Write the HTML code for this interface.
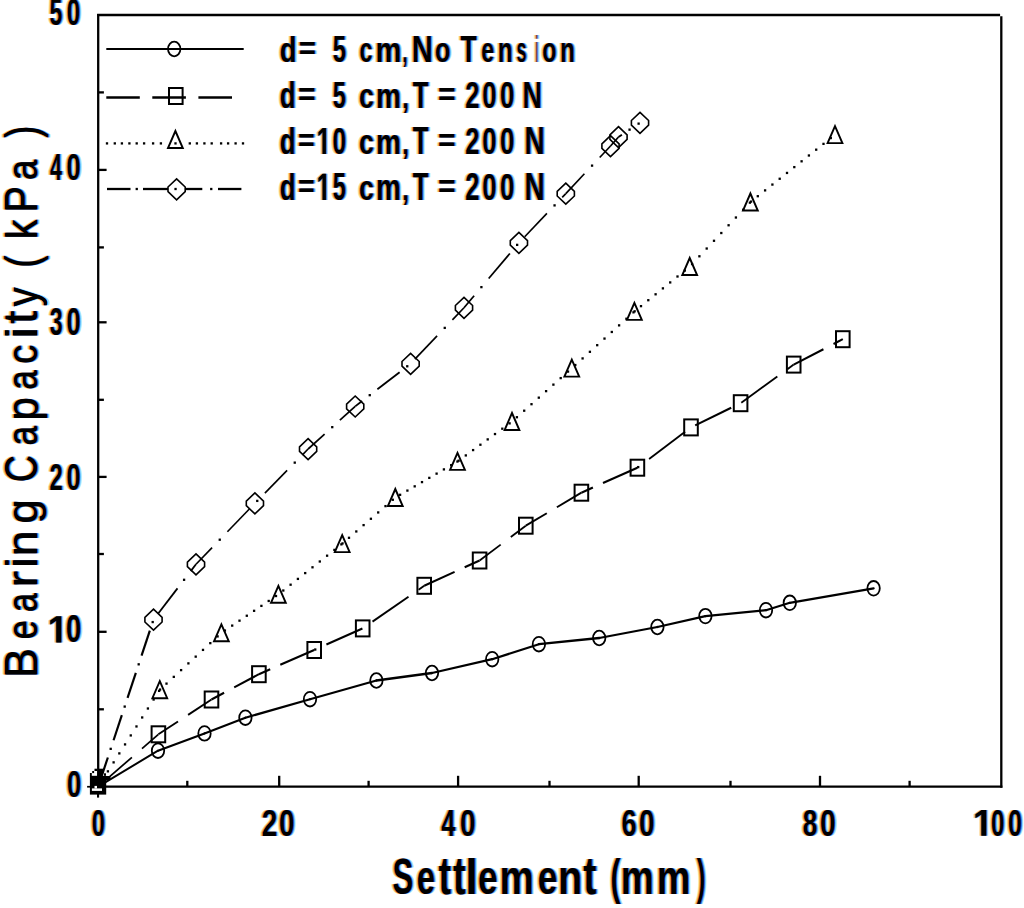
<!DOCTYPE html>
<html><head><meta charset="utf-8"><title>Bearing Capacity vs Settlement</title>
<style>
html,body{margin:0;padding:0;background:#fff;}
body{width:1024px;height:908px;overflow:hidden;position:relative;font-family:"Liberation Sans",sans-serif;}
svg{position:absolute;left:0;top:0;display:block;}
</style></head><body>
<svg width="1024" height="908" viewBox="0 0 1024 908">
<rect width="1024" height="908" fill="#fff"/>
<defs><g font-family="Liberation Sans"><g id="t1"><text transform="translate(49.50,25.43) scale(0.22912,0.37549)" font-size="100" font-weight="bold" vector-effect="non-scaling-stroke">5</text><text transform="translate(66.85,25.43) scale(0.23970,0.37570)" font-size="100" font-weight="bold" vector-effect="non-scaling-stroke">0</text><text transform="translate(49.88,180.30) scale(0.21283,0.37646)" font-size="100" font-weight="bold" vector-effect="non-scaling-stroke">4</text><text transform="translate(66.40,180.33) scale(0.25232,0.37711)" font-size="100" font-weight="bold" vector-effect="non-scaling-stroke">0</text><text transform="translate(49.67,335.37) scale(0.22934,0.37915)" font-size="100" font-weight="bold" vector-effect="non-scaling-stroke">3</text><text transform="translate(66.40,335.43) scale(0.25232,0.37994)" font-size="100" font-weight="bold" vector-effect="non-scaling-stroke">0</text><text transform="translate(49.38,490.10) scale(0.23679,0.37523)" font-size="100" font-weight="bold" vector-effect="non-scaling-stroke">2</text><text transform="translate(66.40,490.13) scale(0.25232,0.37570)" font-size="100" font-weight="bold" vector-effect="non-scaling-stroke">0</text><path d="M478 0L478 1170L140 959L140 1180L493 1409L759 1409L759 0Z" transform="translate(47.71,642.40) scale(0.017771,-0.018524)"/><text transform="translate(65.92,642.43) scale(0.27335,0.37994)" font-size="100" font-weight="bold" vector-effect="non-scaling-stroke">0</text><text transform="translate(66.89,797.13) scale(0.25442,0.37711)" font-size="100" font-weight="bold" vector-effect="non-scaling-stroke">0</text><text transform="translate(91.77,835.83) scale(0.23550,0.37570)" font-size="100" font-weight="bold" vector-effect="non-scaling-stroke">0</text><text transform="translate(261.64,835.80) scale(0.27833,0.37523)" font-size="100" font-weight="bold" vector-effect="non-scaling-stroke">2</text><text transform="translate(279.00,835.83) scale(0.27755,0.37570)" font-size="100" font-weight="bold" vector-effect="non-scaling-stroke">0</text><text transform="translate(441.22,835.80) scale(0.25017,0.37501)" font-size="100" font-weight="bold" vector-effect="non-scaling-stroke">4</text><text transform="translate(460.00,835.83) scale(0.27755,0.37570)" font-size="100" font-weight="bold" vector-effect="non-scaling-stroke">0</text><text transform="translate(621.62,835.83) scale(0.26893,0.37570)" font-size="100" font-weight="bold" vector-effect="non-scaling-stroke">6</text><text transform="translate(639.00,835.83) scale(0.27755,0.37570)" font-size="100" font-weight="bold" vector-effect="non-scaling-stroke">0</text><text transform="translate(802.78,835.83) scale(0.25929,0.37570)" font-size="100" font-weight="bold" vector-effect="non-scaling-stroke">8</text><text transform="translate(819.89,835.83) scale(0.28176,0.37570)" font-size="100" font-weight="bold" vector-effect="non-scaling-stroke">0</text><path d="M478 0L478 1170L140 959L140 1180L493 1409L759 1409L759 0Z" transform="translate(972.96,835.80) scale(0.017447,-0.018311)"/><text transform="translate(991.05,835.83) scale(0.23970,0.37570)" font-size="100" font-weight="bold" vector-effect="non-scaling-stroke">0</text><text transform="translate(1008.11,835.83) scale(0.25022,0.37570)" font-size="100" font-weight="bold" vector-effect="non-scaling-stroke">0</text></g><g id="t2"><text transform="translate(279.68,61.95) scale(0.27386,0.35949)" font-size="100" font-weight="bold" vector-effect="non-scaling-stroke">d</text><text transform="translate(298.68,59.30) scale(0.29314,0.30958)" font-size="100" font-weight="bold" vector-effect="non-scaling-stroke">=</text><text transform="translate(332.87,61.93) scale(0.23716,0.37406)" font-size="100" font-weight="bold" vector-effect="non-scaling-stroke">5</text><text transform="translate(359.40,61.96) scale(0.23166,0.35229)" font-size="100" font-weight="bold" vector-effect="non-scaling-stroke">c</text><text transform="translate(375.49,62.00) scale(0.29032,0.35278)" font-size="100" font-weight="bold" vector-effect="non-scaling-stroke">m</text><text transform="translate(402.61,62.11) scale(0.17474,0.32268)" font-size="100" font-weight="bold" vector-effect="non-scaling-stroke">,</text><text transform="translate(411.65,62.00) scale(0.29087,0.37501)" font-size="100" font-weight="bold" vector-effect="non-scaling-stroke">N</text><text transform="translate(435.02,61.96) scale(0.24966,0.35229)" font-size="100" font-weight="bold" vector-effect="non-scaling-stroke">o</text><text transform="translate(460.40,62.00) scale(0.26322,0.37501)" font-size="100" font-weight="bold" vector-effect="non-scaling-stroke">T</text><text transform="translate(481.30,61.96) scale(0.22986,0.35229)" font-size="100" font-weight="bold" vector-effect="non-scaling-stroke">e</text><text transform="translate(497.80,62.00) scale(0.24228,0.35278)" font-size="100" font-weight="bold" vector-effect="non-scaling-stroke">n</text><text transform="translate(516.47,61.96) scale(0.17917,0.35197)" font-size="100" font-weight="bold" vector-effect="non-scaling-stroke">s</text><text transform="translate(535.74,62.00) scale(0.06559,0.36019)" font-size="100" font-weight="bold" vector-effect="non-scaling-stroke">i</text><text transform="translate(542.30,61.96) scale(0.23089,0.35229)" font-size="100" font-weight="bold" vector-effect="non-scaling-stroke">o</text><text transform="translate(560.00,62.00) scale(0.24228,0.35278)" font-size="100" font-weight="bold" vector-effect="non-scaling-stroke">n</text><text transform="translate(279.74,107.85) scale(0.25798,0.36221)" font-size="100" font-weight="bold" vector-effect="non-scaling-stroke">d</text><text transform="translate(298.06,105.00) scale(0.29912,0.30958)" font-size="100" font-weight="bold" vector-effect="non-scaling-stroke">=</text><text transform="translate(332.78,107.83) scale(0.23314,0.37692)" font-size="100" font-weight="bold" vector-effect="non-scaling-stroke">5</text><text transform="translate(359.06,107.85) scale(0.26651,0.35594)" font-size="100" font-weight="bold" vector-effect="non-scaling-stroke">c</text><text transform="translate(376.06,107.90) scale(0.27850,0.35650)" font-size="100" font-weight="bold" vector-effect="non-scaling-stroke">m</text><text transform="translate(402.29,108.01) scale(0.23765,0.32268)" font-size="100" font-weight="bold" vector-effect="non-scaling-stroke">,</text><text transform="translate(412.81,107.90) scale(0.25473,0.37791)" font-size="100" font-weight="bold" vector-effect="non-scaling-stroke">T</text><text transform="translate(438.06,105.00) scale(0.29912,0.30958)" font-size="100" font-weight="bold" vector-effect="non-scaling-stroke">=</text><text transform="translate(465.32,107.90) scale(0.25340,0.37666)" font-size="100" font-weight="bold" vector-effect="non-scaling-stroke">2</text><text transform="translate(482.19,107.83) scale(0.25442,0.37570)" font-size="100" font-weight="bold" vector-effect="non-scaling-stroke">0</text><text transform="translate(499.89,107.83) scale(0.25653,0.37570)" font-size="100" font-weight="bold" vector-effect="non-scaling-stroke">0</text><text transform="translate(522.40,107.90) scale(0.26876,0.37791)" font-size="100" font-weight="bold" vector-effect="non-scaling-stroke">N</text><text transform="translate(279.74,153.94) scale(0.25798,0.36357)" font-size="100" font-weight="bold" vector-effect="non-scaling-stroke">d</text><text transform="translate(298.12,151.00) scale(0.28516,0.30958)" font-size="100" font-weight="bold" vector-effect="non-scaling-stroke">=</text><path d="M478 0L478 1170L140 959L140 1180L493 1409L759 1409L759 0Z" transform="translate(316.70,154.00) scale(0.012116,-0.018524)"/><text transform="translate(332.54,153.93) scale(0.24391,0.37711)" font-size="100" font-weight="bold" vector-effect="non-scaling-stroke">0</text><text transform="translate(359.06,153.95) scale(0.26651,0.35776)" font-size="100" font-weight="bold" vector-effect="non-scaling-stroke">c</text><text transform="translate(376.06,154.00) scale(0.27850,0.35835)" font-size="100" font-weight="bold" vector-effect="non-scaling-stroke">m</text><text transform="translate(402.29,154.11) scale(0.23765,0.32268)" font-size="100" font-weight="bold" vector-effect="non-scaling-stroke">,</text><text transform="translate(412.81,154.00) scale(0.25473,0.37937)" font-size="100" font-weight="bold" vector-effect="non-scaling-stroke">T</text><text transform="translate(438.06,151.00) scale(0.29912,0.30958)" font-size="100" font-weight="bold" vector-effect="non-scaling-stroke">=</text><text transform="translate(465.32,154.00) scale(0.25340,0.37809)" font-size="100" font-weight="bold" vector-effect="non-scaling-stroke">2</text><text transform="translate(482.19,153.93) scale(0.25442,0.37711)" font-size="100" font-weight="bold" vector-effect="non-scaling-stroke">0</text><text transform="translate(499.89,153.93) scale(0.25653,0.37711)" font-size="100" font-weight="bold" vector-effect="non-scaling-stroke">0</text><text transform="translate(524.53,154.00) scale(0.27896,0.37937)" font-size="100" font-weight="bold" vector-effect="non-scaling-stroke">N</text><text transform="translate(279.74,199.94) scale(0.25798,0.36494)" font-size="100" font-weight="bold" vector-effect="non-scaling-stroke">d</text><text transform="translate(298.12,196.90) scale(0.28516,0.30958)" font-size="100" font-weight="bold" vector-effect="non-scaling-stroke">=</text><path d="M478 0L478 1170L140 959L140 1180L493 1409L759 1409L759 0Z" transform="translate(316.70,200.00) scale(0.012116,-0.018595)"/><text transform="translate(332.78,199.93) scale(0.23314,0.37979)" font-size="100" font-weight="bold" vector-effect="non-scaling-stroke">5</text><text transform="translate(359.06,199.95) scale(0.26651,0.35959)" font-size="100" font-weight="bold" vector-effect="non-scaling-stroke">c</text><text transform="translate(376.06,200.00) scale(0.27850,0.36021)" font-size="100" font-weight="bold" vector-effect="non-scaling-stroke">m</text><text transform="translate(402.29,200.11) scale(0.23765,0.32268)" font-size="100" font-weight="bold" vector-effect="non-scaling-stroke">,</text><text transform="translate(412.81,200.00) scale(0.25473,0.38082)" font-size="100" font-weight="bold" vector-effect="non-scaling-stroke">T</text><text transform="translate(438.06,196.90) scale(0.29912,0.30958)" font-size="100" font-weight="bold" vector-effect="non-scaling-stroke">=</text><text transform="translate(465.32,200.00) scale(0.25340,0.37952)" font-size="100" font-weight="bold" vector-effect="non-scaling-stroke">2</text><text transform="translate(482.19,199.93) scale(0.25442,0.37853)" font-size="100" font-weight="bold" vector-effect="non-scaling-stroke">0</text><text transform="translate(499.89,199.93) scale(0.25653,0.37853)" font-size="100" font-weight="bold" vector-effect="non-scaling-stroke">0</text><text transform="translate(524.53,200.00) scale(0.27896,0.38082)" font-size="100" font-weight="bold" vector-effect="non-scaling-stroke">N</text></g><g id="t3"><text transform="translate(392.41,893.50) scale(0.31045,0.50847)" font-size="100" font-weight="bold" vector-effect="non-scaling-stroke">S</text><text transform="translate(416.82,893.73) scale(0.32718,0.48371)" font-size="100" font-weight="bold" vector-effect="non-scaling-stroke">e</text><text transform="translate(438.54,893.54) scale(0.37590,0.52788)" font-size="100" font-weight="bold" vector-effect="non-scaling-stroke">t</text><text transform="translate(453.04,893.54) scale(0.37590,0.52788)" font-size="100" font-weight="bold" vector-effect="non-scaling-stroke">t</text><text transform="translate(465.34,893.70) scale(0.45187,0.49268)" font-size="100" font-weight="bold" vector-effect="non-scaling-stroke">l</text><text transform="translate(477.93,893.73) scale(0.34996,0.48371)" font-size="100" font-weight="bold" vector-effect="non-scaling-stroke">e</text><text transform="translate(499.56,893.70) scale(0.38490,0.48276)" font-size="100" font-weight="bold" vector-effect="non-scaling-stroke">m</text><text transform="translate(537.83,893.73) scale(0.34996,0.48371)" font-size="100" font-weight="bold" vector-effect="non-scaling-stroke">e</text><text transform="translate(558.09,893.70) scale(0.39552,0.48276)" font-size="100" font-weight="bold" vector-effect="non-scaling-stroke">n</text><text transform="translate(583.22,893.54) scale(0.39534,0.52788)" font-size="100" font-weight="bold" vector-effect="non-scaling-stroke">t</text><text transform="translate(610.42,893.53) scale(0.29763,0.49028)" font-size="100" font-weight="bold" vector-effect="non-scaling-stroke">(</text><text transform="translate(620.76,893.70) scale(0.37045,0.48276)" font-size="100" font-weight="bold" vector-effect="non-scaling-stroke">m</text><text transform="translate(656.71,893.70) scale(0.37833,0.48276)" font-size="100" font-weight="bold" vector-effect="non-scaling-stroke">m</text><text transform="translate(696.77,893.53) scale(0.25866,0.49028)" font-size="100" font-weight="bold" vector-effect="non-scaling-stroke">)</text></g><g id="t4"><text transform="translate(36.90,678.02) rotate(-90) scale(0.44718,0.46803)" font-size="100" font-weight="normal" vector-effect="non-scaling-stroke">B</text><text transform="translate(36.69,639.30) rotate(-90) scale(0.34098,0.42165)" font-size="100" font-weight="normal" vector-effect="non-scaling-stroke">e</text><text transform="translate(36.69,612.09) rotate(-90) scale(0.33874,0.42165)" font-size="100" font-weight="normal" vector-effect="non-scaling-stroke">a</text><text transform="translate(36.80,587.44) rotate(-90) scale(0.49600,0.42187)" font-size="100" font-weight="normal" vector-effect="non-scaling-stroke">r</text><text transform="translate(36.80,567.95) rotate(-90) scale(0.47787,0.44300)" font-size="100" font-weight="normal" vector-effect="non-scaling-stroke">i</text><text transform="translate(36.80,556.21) rotate(-90) scale(0.46139,0.42187)" font-size="100" font-weight="normal" vector-effect="non-scaling-stroke">n</text><text transform="translate(36.67,523.38) rotate(-90) scale(0.43584,0.42062)" font-size="100" font-weight="normal" vector-effect="non-scaling-stroke">g</text><text transform="translate(36.65,482.16) rotate(-90) scale(0.37581,0.46327)" font-size="100" font-weight="normal" vector-effect="non-scaling-stroke">C</text><text transform="translate(36.69,445.55) rotate(-90) scale(0.35237,0.42165)" font-size="100" font-weight="normal" vector-effect="non-scaling-stroke">a</text><text transform="translate(37.69,420.44) rotate(-90) scale(0.41805,0.43886)" font-size="100" font-weight="normal" vector-effect="non-scaling-stroke">p</text><text transform="translate(36.69,389.84) rotate(-90) scale(0.35042,0.42165)" font-size="100" font-weight="normal" vector-effect="non-scaling-stroke">a</text><text transform="translate(36.69,363.77) rotate(-90) scale(0.38038,0.42165)" font-size="100" font-weight="normal" vector-effect="non-scaling-stroke">c</text><text transform="translate(36.80,338.90) rotate(-90) scale(0.54613,0.44300)" font-size="100" font-weight="normal" vector-effect="non-scaling-stroke">i</text><text transform="translate(36.63,323.86) rotate(-90) scale(0.46599,0.47838)" font-size="100" font-weight="normal" vector-effect="non-scaling-stroke">t</text><text transform="translate(37.58,306.24) rotate(-90) scale(0.37732,0.44439)" font-size="100" font-weight="normal" vector-effect="non-scaling-stroke">y</text><text transform="translate(38.09,267.60) rotate(-90) scale(0.36208,0.45940)" font-size="100" font-weight="normal" vector-effect="non-scaling-stroke">(</text><text transform="translate(36.90,239.06) rotate(-90) scale(0.38702,0.44300)" font-size="100" font-weight="normal" vector-effect="non-scaling-stroke">k</text><text transform="translate(36.90,212.50) rotate(-90) scale(0.39645,0.46658)" font-size="100" font-weight="normal" vector-effect="non-scaling-stroke">P</text><text transform="translate(36.69,179.90) rotate(-90) scale(0.36405,0.42165)" font-size="100" font-weight="normal" vector-effect="non-scaling-stroke">a</text><text transform="translate(38.09,137.76) rotate(-90) scale(0.36208,0.45940)" font-size="100" font-weight="normal" vector-effect="non-scaling-stroke">)</text></g></g></defs>
<g stroke="#000" stroke-width="2.3" fill="none"><line x1="98.2" y1="13.9" x2="98.2" y2="787.8000000000001"/><line x1="97.10000000000001" y1="15.0" x2="1000.0999999999999" y2="15.0"/><line x1="1001.3" y1="16.3" x2="1001.3" y2="787.8000000000001"/><line x1="97.10000000000001" y1="786.7" x2="1002.4" y2="786.7"/><line x1="187.3" y1="786.7" x2="187.3" y2="780.8000000000001"/><line x1="279.2" y1="786.7" x2="279.2" y2="775.8000000000001"/><line x1="368.6" y1="786.7" x2="368.6" y2="780.8000000000001"/><line x1="458.1" y1="786.7" x2="458.1" y2="775.8000000000001"/><line x1="549.5" y1="786.7" x2="549.5" y2="780.8000000000001"/><line x1="638.7" y1="786.7" x2="638.7" y2="775.8000000000001"/><line x1="730.5" y1="786.7" x2="730.5" y2="780.8000000000001"/><line x1="820.0" y1="786.7" x2="820.0" y2="775.8000000000001"/><line x1="909.6" y1="786.7" x2="909.6" y2="780.8000000000001"/><line x1="98.2" y1="709.3" x2="103.9" y2="709.3"/><line x1="98.2" y1="631.8" x2="106.60000000000001" y2="631.8"/><line x1="98.2" y1="554.0" x2="103.9" y2="554.0"/><line x1="98.2" y1="476.9" x2="106.60000000000001" y2="476.9"/><line x1="98.2" y1="399.8" x2="103.9" y2="399.8"/><line x1="98.2" y1="322.3" x2="106.60000000000001" y2="322.3"/><line x1="98.2" y1="247.4" x2="103.9" y2="247.4"/><line x1="98.2" y1="169.9" x2="106.60000000000001" y2="169.9"/><line x1="98.2" y1="92.4" x2="103.9" y2="92.4"/></g>
<g font-family="Liberation Sans" font-weight="bold" fill="#000"><use href="#t1" fill="#fcd898" transform="translate(-2.00,0.00)"/><use href="#t1" fill="#a4dcff" transform="translate(2.00,0.00)"/><use href="#t1" fill="#de8c46" transform="translate(-0.91,0.00)"/><use href="#t1" fill="#4270d0" transform="translate(0.91,0.00)"/><use href="#t1" fill="#000" transform="translate(0.00,0.00)"/><use href="#t2" fill="#fcd898" transform="translate(-2.00,0.00)"/><use href="#t2" fill="#a4dcff" transform="translate(2.00,0.00)"/><use href="#t2" fill="#de8c46" transform="translate(-0.91,0.00)"/><use href="#t2" fill="#4270d0" transform="translate(0.91,0.00)"/><use href="#t2" fill="#000" transform="translate(0.00,0.00)"/><use href="#t3" fill="#fcd898" transform="translate(-2.00,0.00)"/><use href="#t3" fill="#a4dcff" transform="translate(2.00,0.00)"/><use href="#t3" fill="#de8c46" transform="translate(-0.91,0.00)"/><use href="#t3" fill="#4270d0" transform="translate(0.91,0.00)"/><use href="#t3" fill="#000" transform="translate(0.00,0.00)"/><use href="#t4" fill="#fcd898" transform="translate(-2.00,-0.25)"/><use href="#t4" fill="#fcd898" transform="translate(-2.00,0.25)"/><use href="#t4" fill="#a4dcff" transform="translate(2.00,-0.25)"/><use href="#t4" fill="#a4dcff" transform="translate(2.00,0.25)"/><use href="#t4" fill="#de8c46" transform="translate(-0.91,-0.25)"/><use href="#t4" fill="#de8c46" transform="translate(-0.91,0.25)"/><use href="#t4" fill="#4270d0" transform="translate(0.91,-0.25)"/><use href="#t4" fill="#4270d0" transform="translate(0.91,0.25)"/><use href="#t4" fill="#000" transform="translate(0.00,-0.25)"/><use href="#t4" fill="#000" transform="translate(0.00,0.25)"/></g>
<g stroke="#000" fill="none" stroke-linecap="round"><path d="M98.20 786.60L158.00 750.70" stroke-width="1.97"/><path d="M158.00 750.70L204.50 733.40" stroke-width="2.16"/><path d="M204.50 733.40L245.40 717.70" stroke-width="2.15"/><path d="M245.40 717.70L310.00 699.20" stroke-width="2.21"/><path d="M310.00 699.20L376.40 680.50" stroke-width="2.21"/><path d="M376.40 680.50L432.00 673.00" stroke-width="2.28"/><path d="M432.00 673.00L492.20 659.20" stroke-width="2.24"/><path d="M492.20 659.20L538.90 644.20" stroke-width="2.19"/><path d="M538.90 644.20L599.20 638.00" stroke-width="2.29"/><path d="M599.20 638.00L657.40 627.00" stroke-width="2.26"/><path d="M657.40 627.00L705.40 616.10" stroke-width="2.24"/><path d="M705.40 616.10L766.00 610.20" stroke-width="2.29"/><path d="M766.00 610.20L789.80 602.80" stroke-width="2.20"/><path d="M789.80 602.80L873.60 588.30" stroke-width="2.27"/></g><g stroke="#000" fill="none" stroke-linecap="butt"><path d="M98.20 786.60L131.90 757.32" stroke-width="1.74"/><path d="M142.00 748.55L158.40 734.30" stroke-width="1.74"/><path d="M158.40 734.30L178.00 721.45" stroke-width="1.92"/><path d="M188.10 714.84L211.50 699.50" stroke-width="1.92"/><path d="M211.50 699.50L224.10 692.77" stroke-width="2.03"/><path d="M234.20 687.38L258.90 674.20" stroke-width="2.03"/><path d="M258.90 674.20L270.20 669.25" stroke-width="2.11"/><path d="M280.30 664.84L314.20 650.00" stroke-width="2.11"/><rect x="314.10" y="648.38" width="2.3" height="2.3" fill="#000" stroke="none"/><path d="M326.40 644.57L362.40 628.53" stroke-width="2.10"/><path d="M372.50 621.61L408.50 596.68" stroke-width="1.89"/><path d="M418.60 589.68L424.20 585.80" stroke-width="1.89"/><path d="M424.20 585.80L454.60 571.92" stroke-width="2.09"/><path d="M464.70 567.30L479.60 560.50" stroke-width="2.09"/><path d="M479.60 560.50L500.70 544.61" stroke-width="1.84"/><path d="M510.80 537.00L525.80 525.70" stroke-width="1.84"/><path d="M525.80 525.70L546.80 513.24" stroke-width="1.98"/><path d="M556.90 507.24L581.40 492.70" stroke-width="1.98"/><path d="M581.40 492.70L592.90 487.57" stroke-width="2.10"/><path d="M603.00 483.06L637.40 467.70" stroke-width="2.10"/><rect x="637.05" y="465.95" width="2.3" height="2.3" fill="#000" stroke="none"/><path d="M649.10 458.90L685.10 431.84" stroke-width="1.84"/><path d="M695.20 425.35L731.20 407.79" stroke-width="2.07"/><path d="M741.30 402.69L777.30 376.52" stroke-width="1.86"/><path d="M787.40 369.18L793.70 364.60" stroke-width="1.86"/><path d="M793.70 364.60L823.40 349.24" stroke-width="2.04"/><path d="M833.50 344.01L842.80 339.20" stroke-width="2.04"/></g><g stroke="#000" fill="none" stroke-linecap="butt"><rect x="101.04" y="779.18" width="2.3" height="2.3" fill="#000" stroke="none"/><rect x="106.76" y="770.20" width="2.3" height="2.3" fill="#000" stroke="none"/><rect x="112.47" y="761.22" width="2.3" height="2.3" fill="#000" stroke="none"/><rect x="118.18" y="752.24" width="2.3" height="2.3" fill="#000" stroke="none"/><rect x="123.90" y="743.26" width="2.3" height="2.3" fill="#000" stroke="none"/><rect x="129.61" y="734.28" width="2.3" height="2.3" fill="#000" stroke="none"/><rect x="135.33" y="725.30" width="2.3" height="2.3" fill="#000" stroke="none"/><rect x="141.04" y="716.32" width="2.3" height="2.3" fill="#000" stroke="none"/><rect x="146.75" y="707.35" width="2.3" height="2.3" fill="#000" stroke="none"/><rect x="152.47" y="698.37" width="2.3" height="2.3" fill="#000" stroke="none"/><rect x="157.97" y="689.73" width="2.3" height="2.3" fill="#000" stroke="none"/><rect x="158.93" y="688.40" width="2.3" height="2.3" fill="#000" stroke="none"/><rect x="165.35" y="682.46" width="2.3" height="2.3" fill="#000" stroke="none"/><rect x="172.65" y="675.72" width="2.3" height="2.3" fill="#000" stroke="none"/><rect x="179.95" y="668.97" width="2.3" height="2.3" fill="#000" stroke="none"/><rect x="187.25" y="662.23" width="2.3" height="2.3" fill="#000" stroke="none"/><rect x="194.55" y="655.49" width="2.3" height="2.3" fill="#000" stroke="none"/><rect x="201.85" y="648.75" width="2.3" height="2.3" fill="#000" stroke="none"/><rect x="209.15" y="642.00" width="2.3" height="2.3" fill="#000" stroke="none"/><rect x="216.45" y="635.26" width="2.3" height="2.3" fill="#000" stroke="none"/><rect x="223.75" y="629.39" width="2.3" height="2.3" fill="#000" stroke="none"/><rect x="231.05" y="624.45" width="2.3" height="2.3" fill="#000" stroke="none"/><rect x="238.35" y="619.52" width="2.3" height="2.3" fill="#000" stroke="none"/><rect x="245.65" y="614.59" width="2.3" height="2.3" fill="#000" stroke="none"/><rect x="252.95" y="609.66" width="2.3" height="2.3" fill="#000" stroke="none"/><rect x="260.25" y="604.73" width="2.3" height="2.3" fill="#000" stroke="none"/><rect x="267.55" y="599.80" width="2.3" height="2.3" fill="#000" stroke="none"/><rect x="274.85" y="594.87" width="2.3" height="2.3" fill="#000" stroke="none"/><rect x="282.15" y="589.36" width="2.3" height="2.3" fill="#000" stroke="none"/><rect x="289.45" y="583.55" width="2.3" height="2.3" fill="#000" stroke="none"/><rect x="296.75" y="577.75" width="2.3" height="2.3" fill="#000" stroke="none"/><rect x="304.05" y="571.95" width="2.3" height="2.3" fill="#000" stroke="none"/><rect x="311.35" y="566.15" width="2.3" height="2.3" fill="#000" stroke="none"/><rect x="318.65" y="560.35" width="2.3" height="2.3" fill="#000" stroke="none"/><rect x="325.95" y="554.55" width="2.3" height="2.3" fill="#000" stroke="none"/><rect x="333.25" y="548.75" width="2.3" height="2.3" fill="#000" stroke="none"/><rect x="340.23" y="543.21" width="2.3" height="2.3" fill="#000" stroke="none"/><rect x="341.38" y="542.27" width="2.3" height="2.3" fill="#000" stroke="none"/><rect x="347.85" y="536.65" width="2.3" height="2.3" fill="#000" stroke="none"/><rect x="355.15" y="530.31" width="2.3" height="2.3" fill="#000" stroke="none"/><rect x="362.45" y="523.97" width="2.3" height="2.3" fill="#000" stroke="none"/><rect x="369.75" y="517.63" width="2.3" height="2.3" fill="#000" stroke="none"/><rect x="377.05" y="511.30" width="2.3" height="2.3" fill="#000" stroke="none"/><rect x="384.35" y="504.96" width="2.3" height="2.3" fill="#000" stroke="none"/><rect x="391.65" y="498.62" width="2.3" height="2.3" fill="#000" stroke="none"/><rect x="398.95" y="493.66" width="2.3" height="2.3" fill="#000" stroke="none"/><rect x="406.25" y="489.43" width="2.3" height="2.3" fill="#000" stroke="none"/><rect x="413.55" y="485.19" width="2.3" height="2.3" fill="#000" stroke="none"/><rect x="420.85" y="480.95" width="2.3" height="2.3" fill="#000" stroke="none"/><rect x="428.15" y="476.72" width="2.3" height="2.3" fill="#000" stroke="none"/><rect x="435.45" y="472.48" width="2.3" height="2.3" fill="#000" stroke="none"/><rect x="442.75" y="468.24" width="2.3" height="2.3" fill="#000" stroke="none"/><rect x="450.05" y="464.01" width="2.3" height="2.3" fill="#000" stroke="none"/><rect x="456.28" y="460.39" width="2.3" height="2.3" fill="#000" stroke="none"/><rect x="457.43" y="459.56" width="2.3" height="2.3" fill="#000" stroke="none"/><rect x="464.65" y="454.27" width="2.3" height="2.3" fill="#000" stroke="none"/><rect x="471.95" y="448.93" width="2.3" height="2.3" fill="#000" stroke="none"/><rect x="479.25" y="443.58" width="2.3" height="2.3" fill="#000" stroke="none"/><rect x="486.55" y="438.24" width="2.3" height="2.3" fill="#000" stroke="none"/><rect x="493.85" y="432.90" width="2.3" height="2.3" fill="#000" stroke="none"/><rect x="501.15" y="427.55" width="2.3" height="2.3" fill="#000" stroke="none"/><rect x="508.45" y="422.21" width="2.3" height="2.3" fill="#000" stroke="none"/><rect x="515.75" y="416.07" width="2.3" height="2.3" fill="#000" stroke="none"/><rect x="523.05" y="409.55" width="2.3" height="2.3" fill="#000" stroke="none"/><rect x="530.35" y="403.04" width="2.3" height="2.3" fill="#000" stroke="none"/><rect x="537.65" y="396.52" width="2.3" height="2.3" fill="#000" stroke="none"/><rect x="544.95" y="390.00" width="2.3" height="2.3" fill="#000" stroke="none"/><rect x="552.25" y="383.48" width="2.3" height="2.3" fill="#000" stroke="none"/><rect x="559.55" y="376.96" width="2.3" height="2.3" fill="#000" stroke="none"/><rect x="566.85" y="370.44" width="2.3" height="2.3" fill="#000" stroke="none"/><rect x="574.15" y="363.88" width="2.3" height="2.3" fill="#000" stroke="none"/><rect x="581.45" y="357.27" width="2.3" height="2.3" fill="#000" stroke="none"/><rect x="588.75" y="350.66" width="2.3" height="2.3" fill="#000" stroke="none"/><rect x="596.05" y="344.04" width="2.3" height="2.3" fill="#000" stroke="none"/><rect x="603.35" y="337.43" width="2.3" height="2.3" fill="#000" stroke="none"/><rect x="610.65" y="330.82" width="2.3" height="2.3" fill="#000" stroke="none"/><rect x="617.95" y="324.21" width="2.3" height="2.3" fill="#000" stroke="none"/><rect x="625.25" y="317.60" width="2.3" height="2.3" fill="#000" stroke="none"/><rect x="632.33" y="311.19" width="2.3" height="2.3" fill="#000" stroke="none"/><rect x="633.48" y="310.17" width="2.3" height="2.3" fill="#000" stroke="none"/><rect x="639.85" y="304.99" width="2.3" height="2.3" fill="#000" stroke="none"/><rect x="647.15" y="299.06" width="2.3" height="2.3" fill="#000" stroke="none"/><rect x="654.45" y="293.14" width="2.3" height="2.3" fill="#000" stroke="none"/><rect x="661.75" y="287.21" width="2.3" height="2.3" fill="#000" stroke="none"/><rect x="669.05" y="281.28" width="2.3" height="2.3" fill="#000" stroke="none"/><rect x="676.35" y="275.35" width="2.3" height="2.3" fill="#000" stroke="none"/><rect x="683.65" y="269.43" width="2.3" height="2.3" fill="#000" stroke="none"/><rect x="690.95" y="262.90" width="2.3" height="2.3" fill="#000" stroke="none"/><rect x="698.25" y="255.14" width="2.3" height="2.3" fill="#000" stroke="none"/><rect x="705.55" y="247.38" width="2.3" height="2.3" fill="#000" stroke="none"/><rect x="712.85" y="239.63" width="2.3" height="2.3" fill="#000" stroke="none"/><rect x="720.15" y="231.87" width="2.3" height="2.3" fill="#000" stroke="none"/><rect x="727.45" y="224.11" width="2.3" height="2.3" fill="#000" stroke="none"/><rect x="734.75" y="216.36" width="2.3" height="2.3" fill="#000" stroke="none"/><rect x="742.05" y="208.60" width="2.3" height="2.3" fill="#000" stroke="none"/><rect x="748.73" y="201.51" width="2.3" height="2.3" fill="#000" stroke="none"/><rect x="749.88" y="200.45" width="2.3" height="2.3" fill="#000" stroke="none"/><rect x="756.65" y="195.05" width="2.3" height="2.3" fill="#000" stroke="none"/><rect x="763.95" y="189.24" width="2.3" height="2.3" fill="#000" stroke="none"/><rect x="771.25" y="183.42" width="2.3" height="2.3" fill="#000" stroke="none"/><rect x="778.55" y="177.61" width="2.3" height="2.3" fill="#000" stroke="none"/><rect x="785.85" y="171.79" width="2.3" height="2.3" fill="#000" stroke="none"/><rect x="793.15" y="165.97" width="2.3" height="2.3" fill="#000" stroke="none"/><rect x="800.45" y="160.16" width="2.3" height="2.3" fill="#000" stroke="none"/><rect x="807.75" y="154.34" width="2.3" height="2.3" fill="#000" stroke="none"/><rect x="815.05" y="148.53" width="2.3" height="2.3" fill="#000" stroke="none"/><rect x="822.35" y="142.71" width="2.3" height="2.3" fill="#000" stroke="none"/><rect x="829.65" y="136.90" width="2.3" height="2.3" fill="#000" stroke="none"/></g><g stroke="#000" fill="none" stroke-linecap="butt"><path d="M99.56 782.49L107.85 757.47" stroke-width="2.18"/><rect x="109.55" y="747.70" width="2.3" height="2.3" fill="#000" stroke="none"/><path d="M113.56 740.22L121.84 715.20" stroke-width="2.18"/><rect x="123.55" y="705.43" width="2.3" height="2.3" fill="#000" stroke="none"/><path d="M127.55 697.96L135.84 672.94" stroke-width="2.18"/><rect x="137.54" y="663.17" width="2.3" height="2.3" fill="#000" stroke="none"/><path d="M141.55 655.70L149.83 630.68" stroke-width="2.18"/><rect x="151.54" y="620.91" width="2.3" height="2.3" fill="#000" stroke="none"/><path d="M158.24 613.44L177.47 588.42" stroke-width="1.82"/><rect x="182.94" y="578.65" width="2.3" height="2.3" fill="#000" stroke="none"/><path d="M190.72 571.17L196.00 564.30" stroke-width="1.82"/><path d="M196.00 564.30L212.10 547.63" stroke-width="1.65"/><rect x="218.60" y="538.55" width="2.3" height="2.3" fill="#000" stroke="none"/><path d="M227.40 531.78L249.60 508.79" stroke-width="1.65"/><rect x="256.10" y="499.75" width="2.3" height="2.3" fill="#000" stroke="none"/><path d="M264.90 493.09L287.10 470.43" stroke-width="1.64"/><rect x="293.60" y="461.48" width="2.3" height="2.3" fill="#000" stroke="none"/><path d="M302.40 454.82L308.10 449.00" stroke-width="1.64"/><path d="M308.10 449.00L324.60 434.08" stroke-width="1.71"/><rect x="331.10" y="426.01" width="2.3" height="2.3" fill="#000" stroke="none"/><path d="M339.90 420.24L355.20 406.40" stroke-width="1.71"/><path d="M355.20 406.40L362.10 401.08" stroke-width="1.82"/><rect x="368.60" y="394.03" width="2.3" height="2.3" fill="#000" stroke="none"/><path d="M377.40 389.29L399.60 372.18" stroke-width="1.82"/><rect x="406.10" y="365.13" width="2.3" height="2.3" fill="#000" stroke="none"/><path d="M414.90 359.19L437.10 335.91" stroke-width="1.66"/><rect x="443.60" y="326.74" width="2.3" height="2.3" fill="#000" stroke="none"/><path d="M452.40 319.86L464.00 307.70" stroke-width="1.66"/><path d="M464.00 307.70L474.11 295.75" stroke-width="1.76"/><rect x="480.25" y="285.98" width="2.3" height="2.3" fill="#000" stroke="none"/><path d="M488.69 278.51L509.86 253.49" stroke-width="1.76"/><rect x="516.00" y="243.72" width="2.3" height="2.3" fill="#000" stroke="none"/><path d="M524.71 236.70L546.91 213.41" stroke-width="1.66"/><rect x="553.41" y="204.24" width="2.3" height="2.3" fill="#000" stroke="none"/><path d="M562.21 197.36L565.80 193.60" stroke-width="1.66"/><path d="M565.80 193.60L584.41 173.78" stroke-width="1.68"/><rect x="590.91" y="164.48" width="2.3" height="2.3" fill="#000" stroke="none"/><path d="M599.71 157.49L610.50 146.00" stroke-width="1.68"/><path d="M610.50 146.00L618.50 137.00" stroke-width="1.72"/><path d="M618.50 137.00L621.91 134.73" stroke-width="1.92"/><rect x="628.41" y="128.49" width="2.3" height="2.3" fill="#000" stroke="none"/><rect x="637.46" y="122.48" width="2.3" height="2.3" fill="#000" stroke="none"/></g><g stroke="#000" stroke-width="2.2" fill="none"><ellipse cx="158" cy="750.7" rx="6.2" ry="7.3" stroke-width="1.8"/><ellipse cx="204.5" cy="733.4" rx="6.2" ry="7.3" stroke-width="1.8"/><ellipse cx="245.4" cy="717.7" rx="6.2" ry="7.3" stroke-width="1.8"/><ellipse cx="310" cy="699.2" rx="6.2" ry="7.3" stroke-width="1.8"/><ellipse cx="376.4" cy="680.5" rx="6.2" ry="7.3" stroke-width="1.8"/><ellipse cx="432" cy="673" rx="6.2" ry="7.3" stroke-width="1.8"/><ellipse cx="492.2" cy="659.2" rx="6.2" ry="7.3" stroke-width="1.8"/><ellipse cx="538.9" cy="644.2" rx="6.2" ry="7.3" stroke-width="1.8"/><ellipse cx="599.2" cy="638" rx="6.2" ry="7.3" stroke-width="1.8"/><ellipse cx="657.4" cy="627" rx="6.2" ry="7.3" stroke-width="1.8"/><ellipse cx="705.4" cy="616.1" rx="6.2" ry="7.3" stroke-width="1.8"/><ellipse cx="766" cy="610.2" rx="6.2" ry="7.3" stroke-width="1.8"/><ellipse cx="789.8" cy="602.8" rx="6.2" ry="7.3" stroke-width="1.8"/><ellipse cx="873.6" cy="588.3" rx="6.2" ry="7.3" stroke-width="1.8"/><rect x="151.6" y="726.3" width="13.6" height="16.0" stroke-width="2.0"/><rect x="204.7" y="691.5" width="13.6" height="16.0" stroke-width="2.0"/><rect x="252.09999999999997" y="666.2" width="13.6" height="16.0" stroke-width="2.0"/><rect x="307.4" y="642.0" width="13.6" height="16.0" stroke-width="2.0"/><rect x="355.9" y="620.4" width="13.6" height="16.0" stroke-width="2.0"/><rect x="417.4" y="577.8" width="13.6" height="16.0" stroke-width="2.0"/><rect x="472.8" y="552.5" width="13.6" height="16.0" stroke-width="2.0"/><rect x="519.0" y="517.7" width="13.6" height="16.0" stroke-width="2.0"/><rect x="574.6" y="484.7" width="13.6" height="16.0" stroke-width="2.0"/><rect x="630.6" y="459.7" width="13.6" height="16.0" stroke-width="2.0"/><rect x="684.2" y="419.4" width="13.6" height="16.0" stroke-width="2.0"/><rect x="733.8000000000001" y="395.2" width="13.6" height="16.0" stroke-width="2.0"/><rect x="786.9000000000001" y="356.6" width="13.6" height="16.0" stroke-width="2.0"/><rect x="836.0" y="331.2" width="13.6" height="16.0" stroke-width="2.0"/><path d="M159.8 681.1999999999999L167.20000000000002 698.1999999999999L152.4 698.1999999999999Z" stroke-width="1.9"/><path d="M221.4 624.3L228.8 641.3L214.0 641.3Z" stroke-width="1.9"/><path d="M278.4 585.8L285.79999999999995 602.8L271.0 602.8Z" stroke-width="1.9"/><path d="M342.2 535.1L349.59999999999997 552.1L334.8 552.1Z" stroke-width="1.9"/><path d="M395.3 489.0L402.7 506.0L387.90000000000003 506.0Z" stroke-width="1.9"/><path d="M457.5 452.9L464.9 469.9L450.1 469.9Z" stroke-width="1.9"/><path d="M512 413.0L519.4 430.0L504.6 430.0Z" stroke-width="1.9"/><path d="M571.8 359.59999999999997L579.1999999999999 376.59999999999997L564.4 376.59999999999997Z" stroke-width="1.9"/><path d="M634.4 302.9L641.8 319.9L627.0 319.9Z" stroke-width="1.9"/><path d="M689.7 258.0L697.1 275.0L682.3000000000001 275.0Z" stroke-width="1.9"/><path d="M750.4 193.5L757.8 210.5L743.0 210.5Z" stroke-width="1.9"/><path d="M835 126.1L842.4 143.1L827.6 143.1Z" stroke-width="1.9"/><path d="M153.5 609.2L162.1 617.4L162.1 622.0L153.5 630.2L144.9 622.0L144.9 617.4Z" stroke-width="1.6" stroke-linejoin="miter"/><path d="M196 553.9L204.6 562.0999999999999L204.6 566.6999999999999L196 574.9L187.4 566.6999999999999L187.4 562.0999999999999Z" stroke-width="1.6" stroke-linejoin="miter"/><path d="M254.9 492.90000000000003L263.5 501.1L263.5 505.7L254.9 513.9L246.3 505.7L246.3 501.1Z" stroke-width="1.6" stroke-linejoin="miter"/><path d="M308.1 438.6L316.70000000000005 446.8L316.70000000000005 451.4L308.1 459.6L299.5 451.4L299.5 446.8Z" stroke-width="1.6" stroke-linejoin="miter"/><path d="M355.2 396.0L363.8 404.2L363.8 408.79999999999995L355.2 417.0L346.59999999999997 408.79999999999995L346.59999999999997 404.2Z" stroke-width="1.6" stroke-linejoin="miter"/><path d="M410.6 353.3L419.20000000000005 361.5L419.20000000000005 366.09999999999997L410.6 374.3L402.0 366.09999999999997L402.0 361.5Z" stroke-width="1.6" stroke-linejoin="miter"/><path d="M464 297.3L472.6 305.5L472.6 310.09999999999997L464 318.3L455.4 310.09999999999997L455.4 305.5Z" stroke-width="1.6" stroke-linejoin="miter"/><path d="M518.9 232.4L527.5 240.60000000000002L527.5 245.20000000000002L518.9 253.4L510.29999999999995 245.20000000000002L510.29999999999995 240.60000000000002Z" stroke-width="1.6" stroke-linejoin="miter"/><path d="M565.8 183.2L574.4 191.4L574.4 196.0L565.8 204.2L557.1999999999999 196.0L557.1999999999999 191.4Z" stroke-width="1.6" stroke-linejoin="miter"/><path d="M610.5 135.6L619.1 143.8L619.1 148.4L610.5 156.6L601.9 148.4L601.9 143.8Z" stroke-width="1.6" stroke-linejoin="miter"/><path d="M618.5 126.6L627.1 134.8L627.1 139.4L618.5 147.6L609.9 139.4L609.9 134.8Z" stroke-width="1.6" stroke-linejoin="miter"/><path d="M640 112.3L648.6 120.5L648.6 125.10000000000001L640 133.3L631.4 125.10000000000001L631.4 120.5Z" stroke-width="1.6" stroke-linejoin="miter"/></g><g fill="#000"><rect x="89.9" y="775.8" width="16.3" height="18.8"/><rect x="89.9" y="773.0" width="1.9" height="3.0"/><rect x="92.2" y="771.0" width="1.9" height="2.1"/><rect x="94.5" y="768.7" width="2.6" height="2.3"/><rect x="99.0" y="768.7" width="4.7" height="4.6"/><rect x="99.0" y="773.0" width="3.0" height="3.0"/><rect x="104.0" y="773.3" width="2.0" height="2.5"/><rect x="87.1" y="785.9" width="2.9" height="1.7"/><rect x="97.0" y="794.0" width="2.1" height="3.6"/><rect x="106.0" y="776.0" width="4.5" height="4.0"/></g><g fill="#fff"><rect x="91.9" y="788.4" width="10.1" height="2.5"/><rect x="94.5" y="785.9" width="2.5" height="2.6"/></g>
<line x1="106.3" y1="49.0" x2="243.7" y2="49.0" stroke="#000" stroke-width="2.2"/><g stroke="#000" fill="none" stroke-linecap="butt"><path d="M106.30 97.50L139.80 97.50" stroke-width="2.30"/><path d="M152.30 97.50L185.90 97.50" stroke-width="2.30"/><path d="M198.40 97.50L232.00 97.50" stroke-width="2.30"/></g><g stroke="#000" fill="none" stroke-linecap="butt"><rect x="105.85" y="142.25" width="2.3" height="2.3" fill="#000" stroke="none"/><rect x="113.65" y="142.25" width="2.3" height="2.3" fill="#000" stroke="none"/><rect x="120.75" y="142.25" width="2.3" height="2.3" fill="#000" stroke="none"/><rect x="128.25" y="142.25" width="2.3" height="2.3" fill="#000" stroke="none"/><rect x="135.55" y="142.25" width="2.3" height="2.3" fill="#000" stroke="none"/><rect x="142.95" y="142.25" width="2.3" height="2.3" fill="#000" stroke="none"/><rect x="151.95" y="142.25" width="2.3" height="2.3" fill="#000" stroke="none"/><rect x="159.75" y="142.25" width="2.3" height="2.3" fill="#000" stroke="none"/><rect x="174.35" y="142.25" width="2.3" height="2.3" fill="#000" stroke="none"/><rect x="188.65" y="142.25" width="2.3" height="2.3" fill="#000" stroke="none"/><rect x="195.75" y="142.25" width="2.3" height="2.3" fill="#000" stroke="none"/><rect x="203.25" y="142.25" width="2.3" height="2.3" fill="#000" stroke="none"/><rect x="210.55" y="142.25" width="2.3" height="2.3" fill="#000" stroke="none"/><rect x="219.95" y="142.25" width="2.3" height="2.3" fill="#000" stroke="none"/><rect x="226.95" y="142.25" width="2.3" height="2.3" fill="#000" stroke="none"/><rect x="234.45" y="142.25" width="2.3" height="2.3" fill="#000" stroke="none"/><rect x="241.85" y="142.25" width="2.3" height="2.3" fill="#000" stroke="none"/></g><g stroke="#000" fill="none" stroke-linecap="butt"><path d="M107.00 189.00L130.50 189.00" stroke-width="2.30"/><rect x="135.60" y="187.85" width="2.3" height="2.3" fill="#000" stroke="none"/><path d="M143.00 189.00L168.00 189.00" stroke-width="2.30"/><rect x="174.40" y="187.85" width="2.3" height="2.3" fill="#000" stroke="none"/><path d="M185.00 189.00L202.30 189.00" stroke-width="2.30"/><rect x="210.10" y="187.85" width="2.3" height="2.3" fill="#000" stroke="none"/><path d="M218.00 189.00L241.40 189.00" stroke-width="2.30"/></g><g stroke="#000" stroke-width="2.2" fill="none"><ellipse cx="174.2" cy="49.0" rx="6.2" ry="7.3" stroke-width="1.8"/><rect x="169.0" y="88.0" width="13.6" height="16.0" stroke-width="2.0"/><path d="M175.4 131.0L182.8 148.0L168.0 148.0Z" stroke-width="1.9"/><path d="M176.6 178.79999999999998L185.2 187.0L185.2 191.6L176.6 199.79999999999998L168.0 191.6L168.0 187.0Z" stroke-width="1.6" stroke-linejoin="miter"/></g>
</svg>
</body></html>
